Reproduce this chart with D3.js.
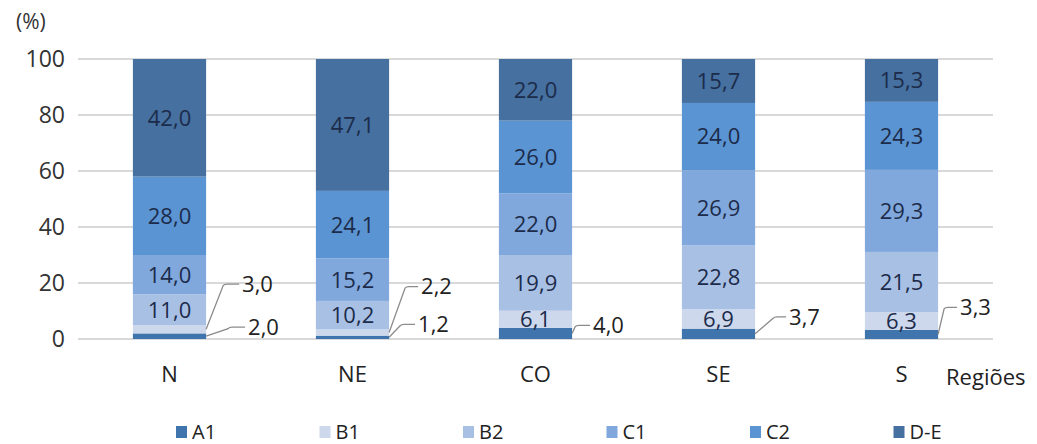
<!DOCTYPE html>
<html>
<head>
<meta charset="utf-8">
<script src="https://cdn.jsdelivr.net/npm/d3@7"></script>
<style>
  html, body { margin: 0; padding: 0; background: #fff; }
  svg { display: block; font-family: "Open Sans", "Noto Sans", sans-serif; }
</style>
</head>
<body>
<svg id="chart" width="1037" height="444"></svg>
<script>
// Regions and socio-economic classes (share of households, %)
const regions = ["N", "NE", "CO", "SE", "S"];
const classes = ["A1", "B1", "B2", "C1", "C2", "D-E"];
const A1  = [2.0, 1.2, 4.0, 3.7, 3.3];
const B1  = [3.0, 2.2, 6.1, 6.9, 6.3];
const B2  = [11.0, 10.2, 19.9, 22.8, 21.5];
const C1  = [14.0, 15.2, 22.0, 26.9, 29.3];
const C2  = [28.0, 24.1, 26.0, 24.0, 24.3];
const DE  = [42.0, 47.1, 22.0, 15.7, 15.3];
const yTicks = [0, 20, 40, 60, 80, 100];

const seriesValues = [A1, B1, B2, C1, C2, DE];
const colors = ["#3f74ad", "#cdd8ec", "#a9c0e5", "#80a8dc", "#5b94d2", "#46709f"];

// Small segments are labelled outside the bar with a leader line
// [region index, class index, dx to elbow, dy to elbow, horizontal run]
const callouts = [
  [0, 1, 18, -45, 15], [0, 0, 23, -9, 16],
  [1, 1, 17, -46, 12], [1, 0, 12, -13, 14],
  [2, 0, 4, -8, 14],
  [3, 0, 19, -17, 12],
  [4, 0, 7, -27, 12]
];

const svg = d3.select("#chart");
const margin = { left: 78, right: 44 };
const W = 1037;

const x = d3.scaleBand().domain(regions).range([margin.left, W - margin.right]).paddingInner(0.6).paddingOuter(0.3);
const y = d3.scaleLinear().domain([0, 100]).range([339, 59]);

// Build table for stacking
const rows = regions.map((r, i) => {
  const o = { region: r };
  classes.forEach((c, k) => o[c] = seriesValues[k][i]);
  return o;
});
const stacked = d3.stack().keys(classes)(rows);

// Gridlines
svg.append("g").selectAll("line").data(yTicks).join("line")
  .attr("x1", margin.left).attr("x2", 993)
  .attr("y1", d => y(d)).attr("y2", d => y(d))
  .attr("stroke", "#d9d9d9").attr("stroke-width", 2);

// Y axis labels
const yAxis = d3.axisLeft(y).tickValues(yTicks).tickSize(0).tickPadding(13).tickFormat(d3.format("d"));
const gy = svg.append("g").attr("transform", `translate(${margin.left},0)`).call(yAxis);
gy.select(".domain").remove();
gy.selectAll("text").attr("font-size", 23).attr("fill", "#333").attr("font-family", "'Open Sans', sans-serif");

svg.append("text").attr("x", 16).attr("y", 29).text("(%)")
  .attr("font-size", 21).attr("fill", "#333");

// Bars
const layers = svg.append("g").selectAll("g").data(stacked).join("g")
  .attr("fill", (d, i) => colors[i]);
layers.selectAll("rect").data(d => d).join("rect")
  .attr("x", d => x(d.data.region))
  .attr("width", x.bandwidth())
  .attr("y", d => y(d[1]))
  .attr("height", d => y(d[0]) - y(d[1]));

const fmt = v => d3.format(".1f")(v).replace(".", ",");

// In-bar labels
const inside = [];
stacked.forEach((layer, k) => {
  layer.forEach((d, i) => {
    const isCallout = callouts.some(c => c[0] === i && c[1] === k);
    if (!isCallout) inside.push({ d, k, i });
  });
});
svg.append("g").selectAll("text").data(inside).join("text")
  .attr("x", o => x(o.d.data.region) + x.bandwidth() / 2)
  .attr("y", o => (y(o.d[0]) + y(o.d[1])) / 2)
  .attr("dy", "0.36em")
  .attr("text-anchor", "middle")
  .attr("font-size", 22)
  .attr("fill", "#1c2b4a")
  .text(o => fmt(o.d[1] - o.d[0]));

// Callout labels with leader lines
const cg = svg.append("g");
callouts.forEach(([ri, ci, dx, dy, run]) => {
  const d = stacked[ci][ri];
  const x0 = x(regions[ri]) + x.bandwidth();
  const y0 = (y(d[0]) + y(d[1])) / 2;
  const x1 = x0 + dx, y1 = y0 + dy;
  const x2 = x1 + run;
  cg.append("path")
    .attr("d", `M${x0},${y0}L${x1 - 1},${y1 + 1.5}Q${x1},${y1} ${x1 + 3},${y1}L${x2},${y1}`)
    .attr("fill", "none").attr("stroke", "#8c8c8c").attr("stroke-width", 1.3);
  cg.append("text")
    .attr("x", x2 + 3).attr("y", y1).attr("dy", "0.36em")
    .attr("font-size", 22).attr("fill", "#222")
    .text(fmt(d[1] - d[0]));
});

// X axis labels
const gx = svg.append("g").attr("transform", "translate(0,339)")
  .call(d3.axisBottom(x).tickSize(0).tickPadding(27));
gx.select(".domain").remove();
gx.selectAll("text").attr("font-size", 22).attr("fill", "#222").attr("font-family", "'Open Sans', sans-serif");

svg.append("text").attr("x", 946).attr("y", 385).text("Regiões")
  .attr("font-size", 22).attr("fill", "#222");

// Legend
const lg = svg.append("g").selectAll("g").data(classes).join("g")
  .attr("transform", (d, i) => `translate(${176 + i * 143.5},432)`);
lg.append("rect").attr("x", 0).attr("y", -6).attr("width", 11).attr("height", 12)
  .attr("fill", (d, i) => colors[i]);
lg.append("text").attr("x", 16).attr("y", 0).attr("dy", "0.36em")
  .attr("font-size", 20).attr("fill", "#222").text(d => d);
</script>
</body>
</html>
